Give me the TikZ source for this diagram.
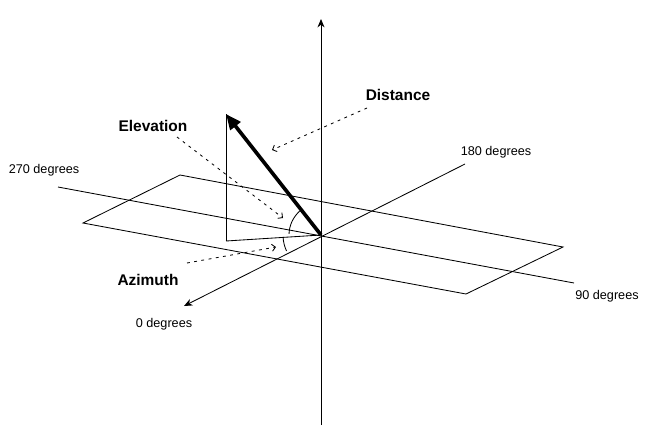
\documentclass[tikz,border=0pt]{standalone}
\usepackage{fontspec}
\setmainfont{Liberation Sans}
\usepackage{tikz}
\usetikzlibrary{arrows.meta}
\pgfdeclarelayer{bg}
\pgfsetlayers{bg,main}

\begin{document}
\begin{tikzpicture}[
        thinline/.style={line width=0.6pt},
        axis/.style={thinline, -{Stealth[length=6pt,width=5pt]}},
        leader/.style={thinline, dash pattern=on 2pt off 3.2pt, -{Straight Barb[length=2.5pt,width=5pt]}},
        vector/.style={line width=2.6pt, -{Triangle[length=11pt,width=9pt]}},
        deglabel/.style={font=\fontsize{9}{11}\selectfont},
        namelabel/.style={font=\fontsize{11}{13}\selectfont\bfseries}]
        \useasboundingbox (0cm, 0cm) rectangle (16.375cm, 11.1cm);
        \coordinate (o) at (8.025cm, 5.225cm);
        \coordinate (up) at (8.025cm, 10.625cm);
        \coordinate (down) at (8.025cm, 0.475cm);
        \coordinate (a0) at (4.600cm, 3.450cm);
        \coordinate (a180) at (11.625cm, 7.000cm);
        \coordinate (a270) at (1.450cm, 6.425cm);
        \coordinate (a90) at (14.350cm, 4.025cm);
        \coordinate (p1) at (4.500cm, 6.725cm);
        \coordinate (p2) at (14.075cm, 4.925cm);
        \coordinate (p3) at (11.650cm, 3.750cm);
        \coordinate (p4) at (2.075cm, 5.525cm);
        \coordinate (tip) at (5.650cm, 8.250cm);
        \coordinate (foot) at (5.650cm, 5.075cm);
        \node (l270) [deglabel] at (1.100cm, 6.850cm) {270 degrees};
        \node (l180) [deglabel] at (12.400cm, 7.300cm) {180 degrees};
        \node (l90) [deglabel] at (15.175cm, 3.700cm) {90 degrees};
        \node (l0) [deglabel] at (4.100cm, 3.000cm) {0 degrees};
        \node (dist) [namelabel] at (9.950cm, 8.725cm) {Distance};
        \node (elev) [namelabel] at (3.825cm, 7.950cm) {Elevation};
        \node (azim) [namelabel] at (3.700cm, 4.100cm) {Azimuth};
        \coordinate (d0) at (9.175cm, 8.400cm);
        \coordinate (d1) at (6.800cm, 7.350cm);
        \coordinate (e0) at (4.425cm, 7.675cm);
        \coordinate (e1) at (7.075cm, 5.650cm);
        \coordinate (z0) at (4.675cm, 4.525cm);
        \coordinate (z1) at (6.900cm, 4.925cm);
        \begin{pgfonlayer}{bg}
                \draw [thinline] (p1) -- (p2) -- (p3) -- (p4) -- cycle;
                \draw (down) edge [axis] (up);
                \draw (a180) edge [axis] (a0);
                \draw (a270) edge [thinline] (a90);
                \draw (tip) edge [thinline] (foot);
                \draw (foot) edge [thinline] (o);
                \draw [thinline] ([shift={(132:0.8cm)}]o) arc [start angle=132, end angle=178, radius=0.8cm];
                \draw [thinline] ([shift={(183:0.95cm)}]o) arc [start angle=183, end angle=205, radius=0.95cm];
        \end{pgfonlayer}
        \draw (o) edge [vector] (tip);
        \draw (d0) edge [leader] (d1);
        \draw (e0) edge [leader] (e1);
        \draw (z0) edge [leader] (z1);
\end{tikzpicture}
\end{document}
